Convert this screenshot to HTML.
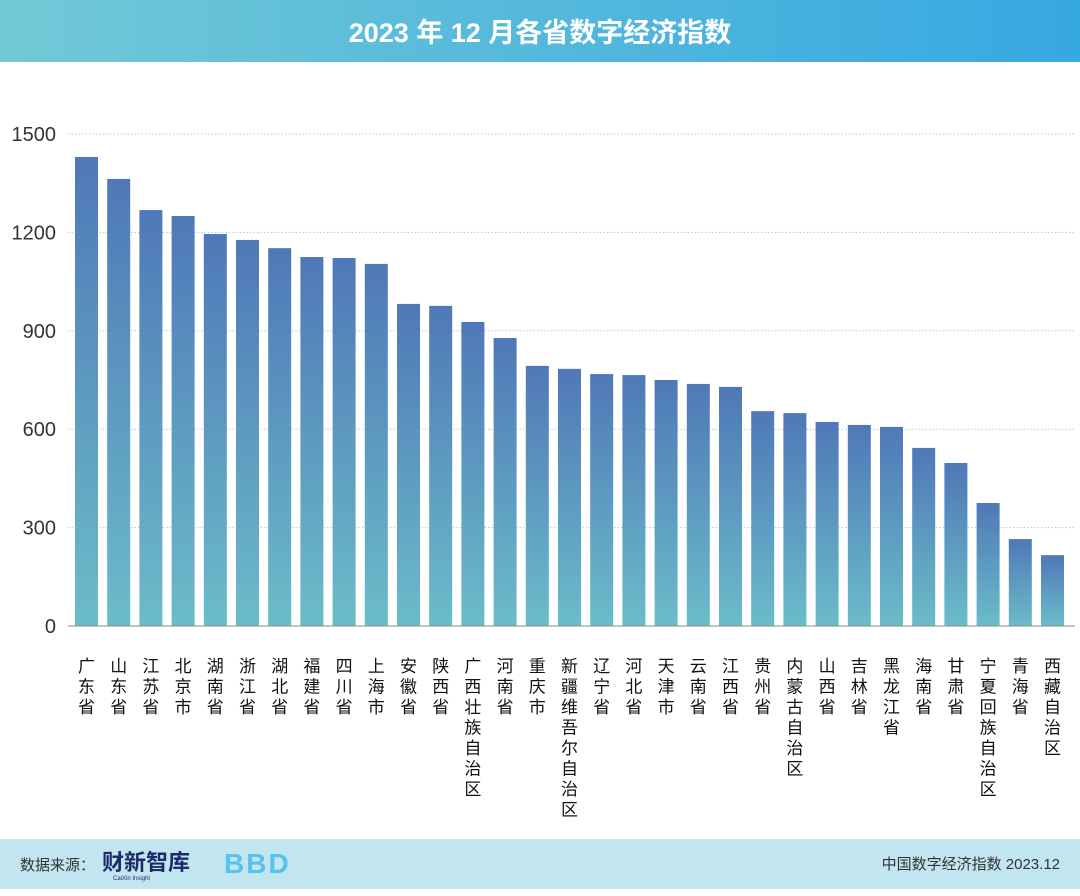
<!DOCTYPE html>
<html><head><meta charset="utf-8"><style>
body{margin:0;width:1080px;height:891px;background:#fff;overflow:hidden;font-family:"Liberation Sans","Noto Sans CJK SC",sans-serif}
</style></head><body>
<svg width="1080" height="891" xmlns="http://www.w3.org/2000/svg">
<defs>
<linearGradient id="hd" x1="0" x2="1"><stop offset="0" stop-color="#72c9d6"/><stop offset="1" stop-color="#36a8e2"/></linearGradient>
<linearGradient id="bg" x1="0" y1="0" x2="0" y2="1"><stop offset="0" stop-color="#4f78b7"/><stop offset="1" stop-color="#6bbcc9"/></linearGradient>
</defs>
<rect x="0" y="0" width="1080" height="62" fill="url(#hd)"/>
<text x="540" y="42" text-anchor="middle" font-size="27" font-weight="bold" fill="#fff" font-family="Liberation Sans,Noto Sans CJK SC,sans-serif">2023 年 12 月各省数字经济指数</text>
<g id="grid"></g><g id="bars"></g><g id="labels"></g>
<line x1="68" y1="626" x2="1075" y2="626" stroke="#888" stroke-width="1"/>
<rect x="0" y="839" width="1080" height="50" fill="#c2e6f0"/>
<text x="20" y="870" font-size="15" fill="#333">数据来源：</text>
<text x="102" y="870" font-size="22" font-weight="bold" fill="#1f2a6b">财新智库</text>
<text x="113" y="880" font-size="6" fill="#1f2a6b">CaiXin Insight</text>
<text x="224" y="873" font-size="28" font-weight="bold" fill="#58c2ee" letter-spacing="2">BBD</text>
<text x="1060" y="869" text-anchor="end" font-size="15" fill="#333">中国数字经济指数 2023.12</text>
</svg>
<script>
const categories=["广东省","山东省","江苏省","北京市","湖南省","浙江省","湖北省","福建省","四川省","上海市","安徽省","陕西省","广西壮族自治区","河南省","重庆市","新疆维吾尔自治区","辽宁省","河北省","天津市","云南省","江西省","贵州省","内蒙古自治区","山西省","吉林省","黑龙江省","海南省","甘肃省","宁夏回族自治区","青海省","西藏自治区"];
const values=[1430,1363,1268,1250,1195,1177,1152,1125,1122,1104,982,976,927,878,793,784,768,765,750,738,729,655,649,622,613,607,543,497,375,265,216];
const ticks=[0,300,600,900,1200,1500];
const NS="http://www.w3.org/2000/svg";
const y=v=>626-v*(492/1500);
const x=i=>75+i*32.2;
const g=document.getElementById('grid'),b=document.getElementById('bars'),l=document.getElementById('labels');
ticks.forEach(t=>{
 if(t>0){const ln=document.createElementNS(NS,'line');
 ln.setAttribute('x1',68);ln.setAttribute('x2',1075);ln.setAttribute('y1',y(t));ln.setAttribute('y2',y(t));
 ln.setAttribute('stroke','#b8c4dc');ln.setAttribute('stroke-dasharray','1.5 2');
 
 
 g.appendChild(ln);}
 const tx=document.createElementNS(NS,'text');
 tx.setAttribute('x',56);tx.setAttribute('y',y(t)+7);tx.setAttribute('text-anchor','end');tx.setAttribute('font-size','20');tx.setAttribute('fill','#333');
 tx.textContent=t;
 
 
 g.appendChild(tx);
});
values.forEach((v,i)=>{
 const r=document.createElementNS(NS,'rect');
 r.setAttribute('x',x(i));r.setAttribute('width',23);r.setAttribute('y',y(v));r.setAttribute('height',626-y(v));r.setAttribute('fill','url(#bg)');
 
 
 b.appendChild(r);
 const t=document.createElementNS(NS,'text');
 t.setAttribute('font-size','17');t.setAttribute('fill','#111');t.setAttribute('text-anchor','middle');
 
 
 [...categories[i]].forEach((c,k)=>{const s=document.createElementNS(NS,'tspan');s.setAttribute('x',x(i)+11.5);s.setAttribute('y',672+k*20.5);s.textContent=c;t.appendChild(s);});
 l.appendChild(t);
});
</script>
</body></html>
